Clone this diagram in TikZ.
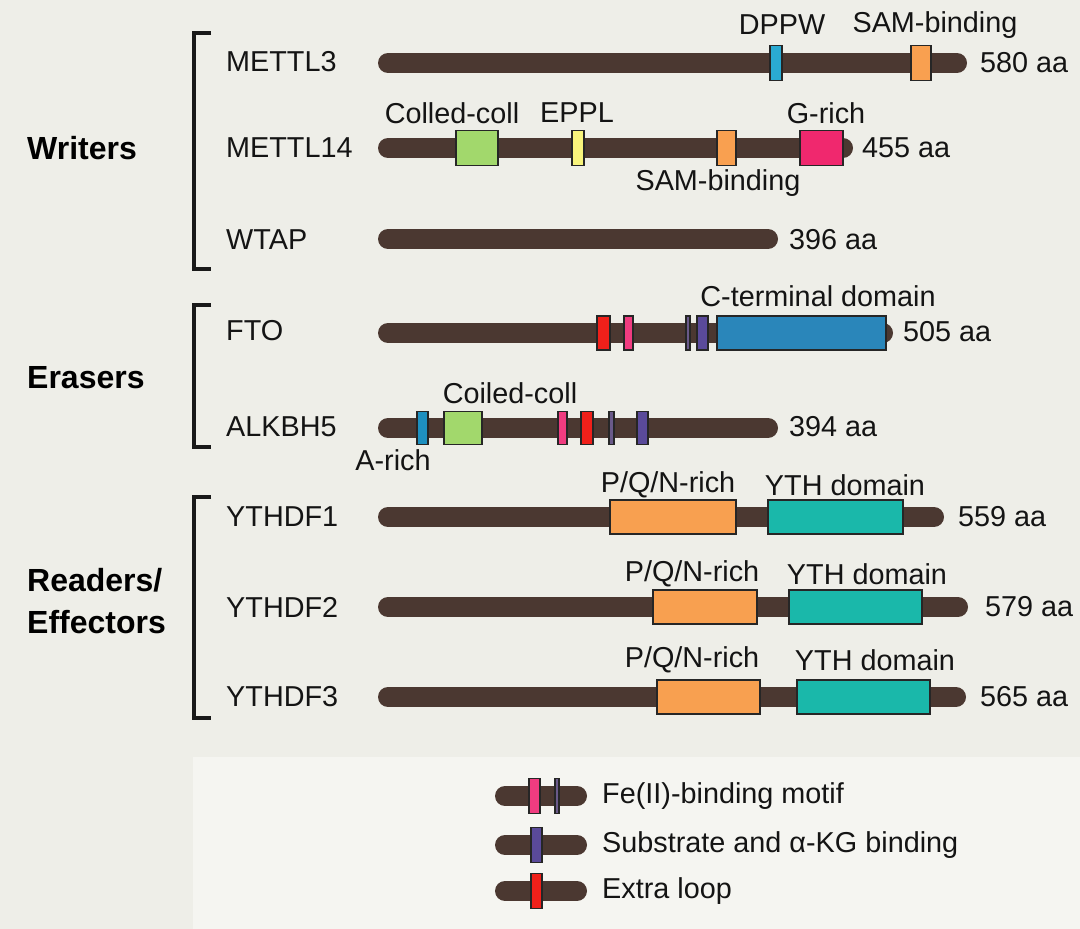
\documentclass[tikz,border=0pt]{standalone}
\usepackage{fontspec}
\setmainfont{Liberation Sans}
\definecolor{bgc}{HTML}{EEEEE8}
\definecolor{legbg}{HTML}{F5F5F1}
\definecolor{barc}{HTML}{4B3831}
\definecolor{dppwc}{HTML}{2AAAD2}
\definecolor{samc}{HTML}{F9A050}
\definecolor{greenc}{HTML}{A2D86C}
\definecolor{yellowc}{HTML}{F8F47C}
\definecolor{grichc}{HTML}{F0286E}
\definecolor{redc}{HTML}{F0201A}
\definecolor{pinkc}{HTML}{F03C80}
\definecolor{thinc}{HTML}{6A5A8A}
\definecolor{purplec}{HTML}{5A4A9A}
\definecolor{ctermc}{HTML}{2A86BA}
\definecolor{arichc}{HTML}{1E90C0}
\definecolor{pqnc}{HTML}{F8A050}
\definecolor{ythc}{HTML}{1AB8AA}
\begin{document}
\begin{tikzpicture}[x=1pt,y=-1pt,
  bar/.style={draw=barc, line width=20pt, line cap=round},
  dom/.style={draw=black!85, line width=1.2pt, rectangle, inner sep=0pt, minimum height=35pt},
  lbl/.style={inner sep=0pt, font=\fontsize{28.8}{32}\selectfont, text=black!92},
  cat/.style={inner sep=0pt, font=\fontsize{32}{42}\selectfont\bfseries, text=black, align=left, anchor=west},
  brk/.style={draw=black!90, line width=4.5pt}
]
\fill[bgc] (0,0) rectangle (1080,929);
\useasboundingbox (0,0) rectangle (1080,929);
\fill[legbg] (193,757) rectangle (1080,929);

% brackets
\draw[brk] (211,33) -- (194,33) -- (194,269) -- (211,269);
\draw[brk] (211,305) -- (194,305) -- (194,447) -- (211,447);
\draw[brk] (211,497) -- (194,497) -- (194,718) -- (211,718);

% categories
\node[cat] (writers) at (27,148) {Writers};
\node[cat] (erasers) at (27,378) {Erasers};
\node[cat] (readers) at (27,601) {Readers/\\Effectors};

% protein names
\node[lbl, anchor=west] (n1) at (226,62) {METTL3};
\node[lbl, anchor=west] (n2) at (226,148) {METTL14};
\node[lbl, anchor=west] (n3) at (226,240) {WTAP};
\node[lbl, anchor=west] (n4) at (226,331) {FTO};
\node[lbl, anchor=west] (n5) at (226,427) {ALKBH5};
\node[lbl, anchor=west] (n6) at (226,517) {YTHDF1};
\node[lbl, anchor=west] (n7) at (226,607) {YTHDF2};
\node[lbl, anchor=west] (n8) at (226,697) {YTHDF3};

% bars
\coordinate (b1s) at (388,63);  \coordinate (b1e) at (957,63);
\coordinate (b2s) at (388,148); \coordinate (b2e) at (843,148);
\coordinate (b3s) at (388,239); \coordinate (b3e) at (768,239);
\coordinate (b4s) at (388,333); \coordinate (b4e) at (883,333);
\coordinate (b5s) at (388,428); \coordinate (b5e) at (768,428);
\coordinate (b6s) at (388,517); \coordinate (b6e) at (934,517);
\coordinate (b7s) at (388,607); \coordinate (b7e) at (958,607);
\coordinate (b8s) at (388,697); \coordinate (b8e) at (956,697);
\foreach \i in {1,...,8} {\draw[bar] (b\i s) -- (b\i e);}

% METTL3
\node[dom, fill=dppwc, minimum width=12pt] (m3dppw) at (776,63) {};
\node[dom, fill=samc, minimum width=20pt] (m3sam) at (921,63) {};
\node[lbl] (l3dppw) at (782,25) {DPPW};
\node[lbl] (l3sam) at (935,25) {SAM-binding};
\node[lbl, anchor=west] (a1) at (980,63) {580 aa};

% METTL14
\node[dom, fill=greenc, minimum width=42pt] (m14cc) at (477,148) {};
\node[dom, fill=yellowc, minimum width=12pt] (m14eppl) at (578,148) {};
\node[dom, fill=samc, minimum width=19pt] (m14sam) at (726.5,148) {};
\node[dom, fill=grichc, minimum width=43pt] (m14g) at (821.5,148) {};
\node[lbl] (l14cc) at (452,113) {Colled-coll};
\node[lbl] (l14eppl) at (577,113) {EPPL};
\node[lbl] (l14sam) at (718,183) {SAM-binding};
\node[lbl] (l14g) at (826,113) {G-rich};
\node[lbl, anchor=west] (a2) at (862,148) {455 aa};

% WTAP
\node[lbl, anchor=west] (a3) at (789,240) {396 aa};

% FTO
\node[dom, fill=redc, minimum width=13pt, minimum height=34pt] (ftored) at (603.5,333) {};
\node[dom, fill=pinkc, minimum width=9pt, minimum height=34pt] (ftopink) at (628.5,333) {};
\node[dom, fill=thinc, minimum width=4pt, minimum height=34pt] (ftothin) at (688,333) {};
\node[dom, fill=purplec, minimum width=11pt, minimum height=34pt] (ftopur) at (702.5,333) {};
\node[dom, fill=ctermc, minimum width=169pt, minimum height=34pt] (ftoct) at (801.5,333) {};
\node[lbl] (lfto) at (818,296) {C-terminal domain};
\node[lbl, anchor=west] (a4) at (903,332) {505 aa};

% ALKBH5
\node[dom, fill=arichc, minimum width=11pt, minimum height=33pt] (akar) at (422.5,428) {};
\node[dom, fill=greenc, minimum width=38pt, minimum height=33pt] (akcc) at (463,428) {};
\node[dom, fill=pinkc, minimum width=9pt, minimum height=33pt] (akpink) at (562.5,428) {};
\node[dom, fill=redc, minimum width=12pt, minimum height=33pt] (akred) at (587,428) {};
\node[dom, fill=thinc, minimum width=5pt, minimum height=33pt] (akthin) at (611.5,428) {};
\node[dom, fill=purplec, minimum width=11pt, minimum height=33pt] (akpur) at (642.5,428) {};
\node[lbl] (lakcc) at (510,393) {Coiled-coll};
\node[lbl] (lakar) at (393,460) {A-rich};
\node[lbl, anchor=west] (a5) at (789,427) {394 aa};

% YTHDF1
\node[dom, fill=pqnc, minimum width=126pt, minimum height=34pt] (y1p) at (673,517) {};
\node[dom, fill=ythc, minimum width=135pt, minimum height=34pt] (y1y) at (835.5,517) {};
\node[lbl] (ly1p) at (668,485) {P/Q/N-rich};
\node[lbl] (ly1y) at (845,485) {YTH domain};
\node[lbl, anchor=west] (a6) at (958,517) {559 aa};

% YTHDF2
\node[dom, fill=pqnc, minimum width=104pt, minimum height=34pt] (y2p) at (705,607) {};
\node[dom, fill=ythc, minimum width=133pt, minimum height=34pt] (y2y) at (855.5,607) {};
\node[lbl] (ly2p) at (692,574) {P/Q/N-rich};
\node[lbl] (ly2y) at (867,574) {YTH domain};
\node[lbl, anchor=west] (a7) at (985,607) {579 aa};

% YTHDF3
\node[dom, fill=pqnc, minimum width=103pt, minimum height=34pt] (y3p) at (708.5,697) {};
\node[dom, fill=ythc, minimum width=133pt, minimum height=34pt] (y3y) at (863.5,697) {};
\node[lbl] (ly3p) at (692,660) {P/Q/N-rich};
\node[lbl] (ly3y) at (875,660) {YTH domain};
\node[lbl, anchor=west] (a8) at (980,697) {565 aa};

% legend
\coordinate (g1s) at (505,796); \coordinate (g1e) at (577,796);
\coordinate (g2s) at (505,845); \coordinate (g2e) at (577,845);
\coordinate (g3s) at (505,891); \coordinate (g3e) at (577,891);
\foreach \i in {1,2,3} {\draw[bar] (g\i s) -- (g\i e);}
\node[dom, fill=pinkc, minimum width=11pt] (gpink) at (534.5,796) {};
\node[dom, fill=thinc, minimum width=4pt] (gthin) at (557,796) {};
\node[dom, fill=purplec, minimum width=11pt] (gpur) at (536.5,845) {};
\node[dom, fill=redc, minimum width=11pt] (gred) at (536.5,891) {};
\node[lbl, anchor=west] (t1) at (602,796) {Fe(II)-binding motif};
\node[lbl, anchor=west] (t2) at (602,845) {Substrate and α-KG binding};
\node[lbl, anchor=west] (t3) at (602,891) {Extra loop};
\end{tikzpicture}
\end{document}
